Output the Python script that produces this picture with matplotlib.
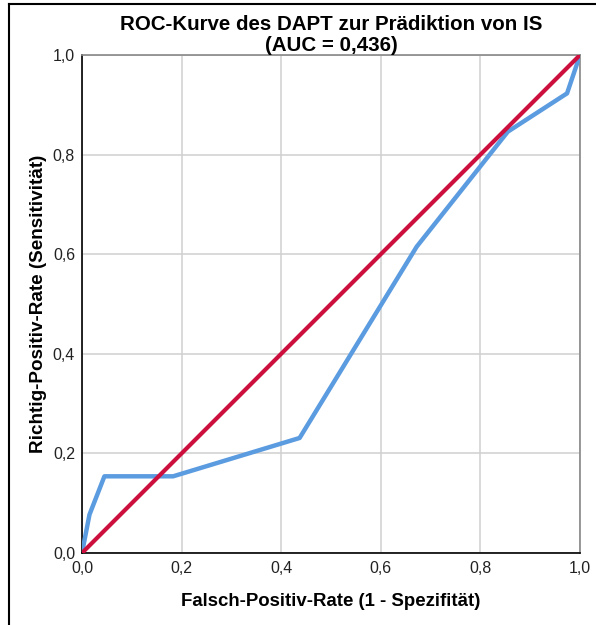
import matplotlib.pyplot as plt
from matplotlib.lines import Line2D

# ROC points
fpr = [0.0, 0.015, 0.045, 0.183, 0.437, 0.672, 0.855, 0.974, 1.0]
tpr = [0.0, 0.077, 0.154, 0.154, 0.231, 0.615, 0.846, 0.923, 1.0]
ref_line = [0.0, 1.0]
ticks = [0.0, 0.2, 0.4, 0.6, 0.8, 1.0]
tick_labels = ["0,0", "0,2", "0,4", "0,6", "0,8", "1,0"]

plt.rcParams['font.family'] = ['Liberation Sans', 'DejaVu Sans']

fig = plt.figure(figsize=(5.96, 6.25), dpi=100)
ax = fig.add_axes([82 / 596, 72 / 625, 498 / 596, 498 / 625])

ax.plot(fpr, tpr, color='#5b9be0', lw=3.2, solid_joinstyle='round', zorder=3)
ax.plot(ref_line, ref_line, color='#cc0f3d', lw=3.0, zorder=4)

ax.set_xlim(0, 1)
ax.set_ylim(0, 1)
ax.set_xticks(ticks)
ax.set_yticks(ticks)
ax.set_xticklabels(tick_labels)
ax.set_yticklabels(tick_labels)
ax.tick_params(length=0, labelsize=11.5, colors='#222222')
ax.tick_params(axis='x', pad=6)
ax.tick_params(axis='y', pad=5)
ax.grid(True, color='#d0d0d0', lw=1.1)
ax.set_axisbelow(True)

for side in ['left', 'bottom']:
    ax.spines[side].set_color('black')
    ax.spines[side].set_linewidth(1.2)
for side in ['top', 'right']:
    ax.spines[side].set_color('#888888')
    ax.spines[side].set_linewidth(1.2)

ax.set_xlabel('Falsch-Positiv-Rate (1 - Spezifität)', fontsize=13.4,
              fontweight='bold', labelpad=12)
ax.set_ylabel('Richtig-Positiv-Rate (Sensitivität)', fontsize=13.6,
              fontweight='bold', labelpad=4)
ax.set_title('ROC-Kurve des DAPT zur Prädiktion von IS\n(AUC = 0,436)',
             fontsize=14.8, fontweight='bold', linespacing=1.1, pad=1)

# outer frame (left and top edges only)
fig.add_artist(Line2D([9 / 596, 9 / 596], [0, 1 - 4 / 625],
                      transform=fig.transFigure, color='black', lw=1.5))
fig.add_artist(Line2D([9 / 596, 1], [1 - 4 / 625, 1 - 4 / 625],
                      transform=fig.transFigure, color='black', lw=1.5))

fig.savefig('out.png', dpi=100)
